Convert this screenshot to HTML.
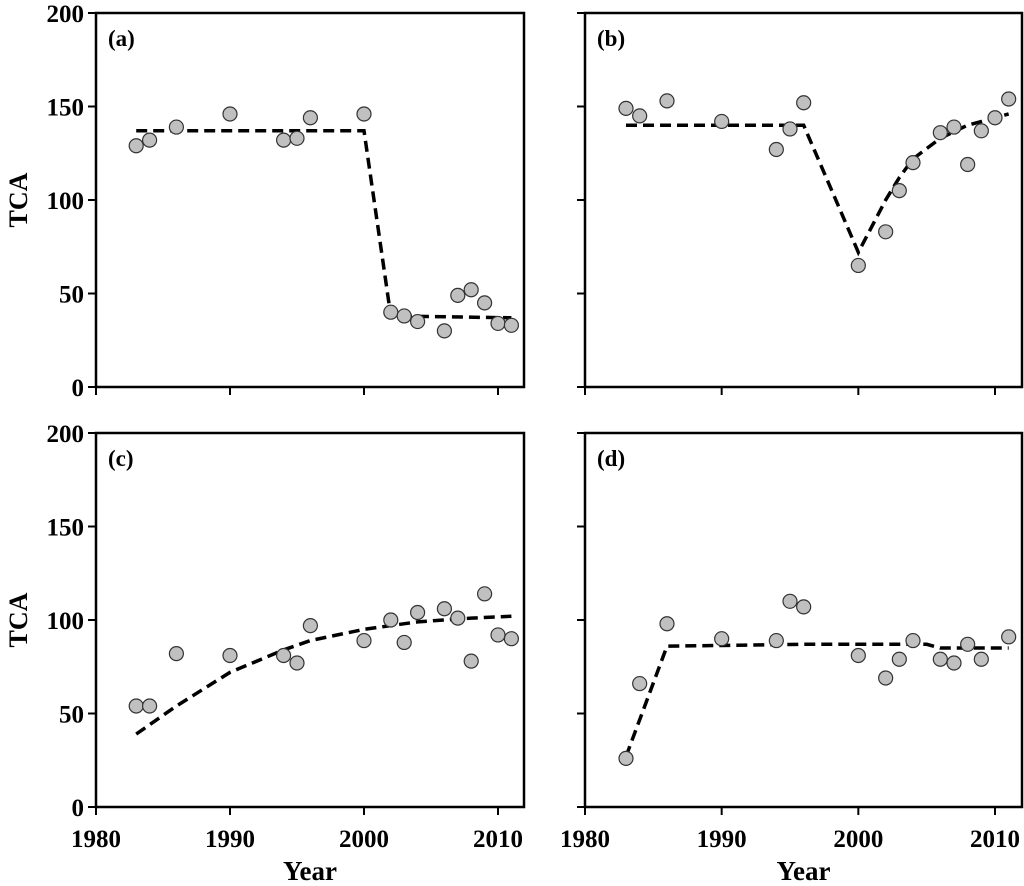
<!DOCTYPE html>
<html><head><meta charset="utf-8"><style>
body{margin:0;background:#fff}
svg{display:block;font-family:"Liberation Serif",serif;font-weight:bold}
</style></head><body>
<svg id="s" width="1024" height="886"></svg>
<script>
const years_a=[1983,1984,1986,1990,1994,1995,1996,2000,2002,2003,2004,2006,2007,2008,2009,2010,2011];
const vals_a=[129,132,139,146,132,133,144,146,40,38,35,30,49,52,45,34,33];
const fitx_a=[1983,2000,2002,2011];
const fity_a=[137,137,38,37];
const years_b=[1983,1984,1986,1990,1994,1995,1996,2000,2002,2003,2004,2006,2007,2008,2009,2010,2011];
const vals_b=[149,145,153,142,127,138,152,65,83,105,120,136,139,119,137,144,154];
const fitx_b=[1983,1996,2000,2002,2003,2004,2006,2008,2010,2011];
const fity_b=[140,140,72,100,112,122,133,140,144,146];
const years_c=[1983,1984,1986,1990,1994,1995,1996,2000,2002,2003,2004,2006,2007,2008,2009,2010,2011];
const vals_c=[54,54,82,81,81,77,97,89,100,88,104,106,101,78,114,92,90];
const fitx_c=[1983,1986,1990,1994,1996,2000,2004,2008,2011];
const fity_c=[39,54,72,84,89,95,99,101,102];
const years_d=[1983,1984,1986,1990,1994,1995,1996,2000,2002,2003,2004,2006,2007,2008,2009,2011];
const vals_d=[26,66,98,90,89,110,107,81,69,79,89,79,77,87,79,91];
const fitx_d=[1983,1986,1996,2005,2006,2011];
const fity_d=[27,86,87,87,85,85];
const yTicks=[0,50,100,150,200];
const xTicks=[1980,1990,2000,2010];

const NS="http://www.w3.org/2000/svg";
const svg=document.getElementById('s');
function mk(t,a,p){const e=document.createElementNS(NS,t);for(const k in a)e.setAttribute(k,a[k]);(p||svg).appendChild(e);return e;}

const panels=[
 {id:'a',L:96,R:524,T:13,B:387,x0:96,x1:498,yl:true,xl:false,ys:years_a,vs:vals_a,fx:fitx_a,fy:fity_a},
 {id:'b',L:585,R:1022,T:13,B:387,x0:585,x1:995,yl:false,xl:false,ys:years_b,vs:vals_b,fx:fitx_b,fy:fity_b},
 {id:'c',L:96,R:524,T:433,B:807,x0:96,x1:498,yl:true,xl:true,ys:years_c,vs:vals_c,fx:fitx_c,fy:fity_c},
 {id:'d',L:585,R:1022,T:433,B:807,x0:585,x1:995,yl:false,xl:true,ys:years_d,vs:vals_d,fx:fitx_d,fy:fity_d}
];
panels.forEach(p=>{
 const X=v=>p.x0+(v-1980)*(p.x1-p.x0)/30;
 const Y=v=>p.B-v*(p.B-p.T)/200;
 const g=mk('g',{});
 
 
 const fr=mk('rect',{x:p.L,y:p.T,width:p.R-p.L,height:p.B-p.T,fill:'none',stroke:'#000','stroke-width':2.5},g);
 
 
 yTicks.forEach(t=>{
  const tk=mk('line',{x1:p.L-8,x2:p.L,y1:Y(t),y2:Y(t),stroke:'#000','stroke-width':2},g);
  
  
  if(p.yl){
   const tx=mk('text',{x:p.L-12,y:Y(t)+9,'text-anchor':'end','font-size':25},g);
   tx.textContent=t;
   
   
  }
 });
 xTicks.forEach(t=>{
  const tk=mk('line',{x1:X(t),x2:X(t),y1:p.B,y2:p.B+8,stroke:'#000','stroke-width':2},g);
  
  
  if(p.xl){
   const tx=mk('text',{x:X(t),y:p.B+40,'text-anchor':'middle','font-size':25},g);
   tx.textContent=t;
   
   
  }
 });
 const lab=mk('text',{x:p.L+12,y:p.T+33,'font-size':23},g);
 lab.textContent='('+p.id+')';
 
 
 const d=p.fx.map((x,i)=>(i?'L':'M')+X(x)+','+Y(p.fy[i])).join(' ');
 const fl=mk('path',{d:d,fill:'none',stroke:'#000','stroke-width':3.5,'stroke-dasharray':'11,6'},g);
 
 
 p.ys.forEach((yr,i)=>{
  const c=mk('circle',{cx:X(yr),cy:Y(p.vs[i]),r:7,fill:'#c0c0c0',stroke:'#333','stroke-width':1.2},g);
  
  
 });
 if(p.yl){
  const t=mk('text',{x:0,y:0,'text-anchor':'middle','font-size':26,transform:'translate(27,'+((p.T+p.B)/2)+') rotate(-90)'},g);
  t.textContent='TCA';
  
  
 }
 if(p.xl){
  const t=mk('text',{x:(p.L+p.R)/2,y:880,'text-anchor':'middle','font-size':27},g);
  t.textContent='Year';
  
  
 }
});
</script>
</body></html>
